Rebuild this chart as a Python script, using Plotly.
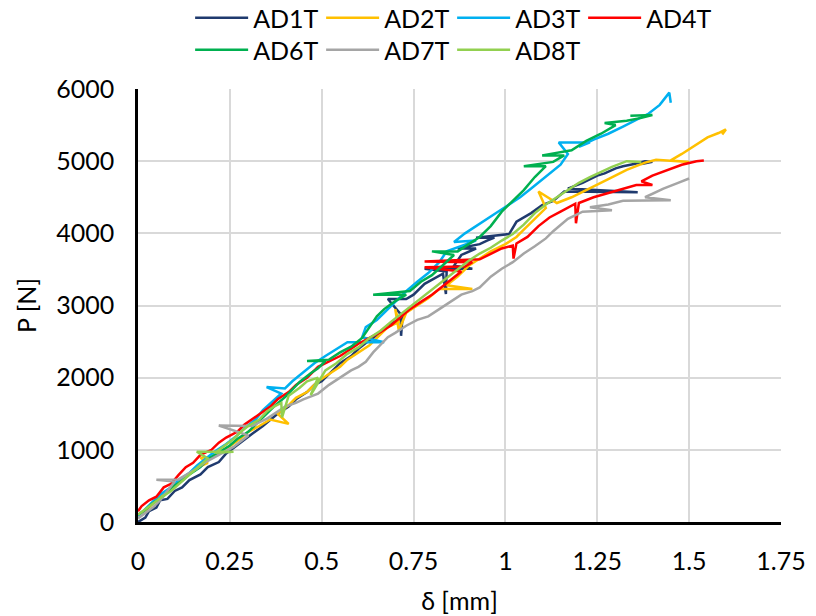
import plotly.graph_objects as go

# ---- data ----
series_names = ["AD1T", "AD2T", "AD3T", "AD4T", "AD6T", "AD7T", "AD8T"]
series_colors = ["#1F3A6E", "#FFC000", "#00B0F0", "#FF0000", "#00B050", "#A5A5A5", "#92D050"]
series_legend = ["legend", "legend", "legend", "legend", "legend2", "legend2", "legend2"]

ad1t_x = [0.0, 0.02, 0.03, 0.05, 0.06, 0.08, 0.10, 0.12, 0.14, 0.17, 0.19, 0.22, 0.24, 0.26, 0.29, 0.31,
          0.34, 0.36, 0.38, 0.41, 0.43, 0.46, 0.48, 0.50, 0.53, 0.55, 0.58, 0.60, 0.62, 0.64, 0.66, 0.68,
          0.70, 0.715, 0.716, 0.72, 0.68, 0.73, 0.75, 0.78, 0.83, 0.838, 0.84, 0.78, 0.91, 0.86, 0.88,
          0.92, 0.87, 0.93, 0.95, 0.97, 0.92, 1.01, 1.03, 1.07, 1.10, 1.13, 1.16, 1.36, 1.17, 1.21, 1.25,
          1.27, 1.30, 1.32, 1.35, 1.38, 1.40, 1.37]
ad1t_y = [0, 60, 150, 200, 300, 320, 430, 480, 580, 660, 760, 830, 950, 1030, 1150, 1220,
          1330, 1420, 1500, 1600, 1700, 1800, 1900, 1950, 2100, 2200, 2300, 2400, 2480, 2550, 2640, 2720,
          2780, 2810, 2580, 2850, 3090, 3090, 3150, 3300, 3440, 3160, 3470, 3510, 3510, 3550, 3700,
          3790, 3790, 3850, 3900, 3940, 3940, 3990, 4160, 4280, 4390, 4450, 4580, 4570, 4620, 4700, 4800,
          4830, 4900, 4930, 4960, 5000, 4990, 4960]

ad2t_x = [0.0, 0.02, 0.04, 0.06, 0.09, 0.11, 0.13, 0.16, 0.19, 0.17, 0.20, 0.22, 0.25, 0.28, 0.30, 0.33,
          0.36, 0.41, 0.38, 0.41, 0.43, 0.46, 0.49, 0.52, 0.55, 0.57, 0.60, 0.63, 0.66, 0.68, 0.71,
          0.70, 0.71, 0.73, 0.76, 0.79, 0.82, 0.91, 0.84, 0.87, 0.90, 0.93, 0.96, 1.00, 1.03, 1.05,
          1.08, 1.11, 1.09, 1.14, 1.18, 1.23, 1.28, 1.33, 1.38, 1.41, 1.50, 1.45, 1.48, 1.52, 1.55,
          1.58, 1.60, 1.59]
ad2t_y = [100, 150, 250, 350, 450, 560, 640, 750, 820, 890, 900, 960, 1050, 1160, 1250, 1330,
          1420, 1360, 1500, 1620, 1720, 1800, 1950, 2050, 2150, 2250, 2350, 2450, 2600, 2700, 2770,
          2950, 2650, 2900, 3000, 3100, 3230, 3230, 3280, 3400, 3550, 3650, 3750, 3850, 3950, 4050,
          4200, 4350, 4580, 4420, 4500, 4620, 4750, 4880, 4980, 5020, 4990, 5010, 5100, 5230, 5330,
          5390, 5440, 5370]

ad3t_x = [0.0, 0.02, 0.04, 0.06, 0.09, 0.11, 0.14, 0.16, 0.19, 0.21, 0.24, 0.27, 0.29, 0.32, 0.34,
          0.37, 0.39, 0.35, 0.40, 0.42, 0.45, 0.48, 0.51, 0.54, 0.57, 0.60, 0.67, 0.61, 0.62, 0.65,
          0.67, 0.70, 0.73, 0.76, 0.79, 0.82, 0.84, 0.92, 0.86, 0.89, 0.92, 0.95, 0.98, 1.01, 1.04,
          1.07, 1.10, 1.12, 1.15, 1.17, 1.145, 1.23, 1.20, 1.24, 1.28, 1.32, 1.36, 1.39, 1.42, 1.446, 1.45]
ad3t_y = [80, 180, 280, 380, 480, 580, 680, 780, 900, 980, 1080, 1200, 1300, 1420, 1550,
          1680, 1780, 1870, 1850, 1950, 2080, 2200, 2300, 2400, 2490, 2490, 2490, 2560, 2700, 2800,
          2900, 3050, 3200, 3330, 3450, 3600, 3750, 3900, 3880, 4000, 4100, 4200, 4300, 4400, 4500,
          4620, 4740, 4830, 4950, 5100, 5260, 5260, 5200, 5300, 5380, 5480, 5580, 5660, 5780, 5950, 5810]

ad4t_x = [0.0, 0.01, 0.03, 0.05, 0.07, 0.09, 0.11, 0.13, 0.15, 0.17, 0.20, 0.22, 0.24, 0.27, 0.29,
          0.31, 0.34, 0.36, 0.38, 0.41, 0.43, 0.46, 0.49, 0.52, 0.55, 0.58, 0.60, 0.63, 0.66, 0.69,
          0.72, 0.74, 0.77, 0.80, 0.82, 0.85, 0.88, 0.78, 0.89, 0.91, 0.78, 0.93, 0.96, 0.99, 1.02,
          1.022, 1.03, 1.06, 1.09, 1.12, 1.15, 1.19, 1.192, 1.20, 1.24, 1.28, 1.32, 1.356, 1.40, 1.37,
          1.40, 1.44, 1.48, 1.52, 1.54]
ad4t_y = [150, 220, 300, 350, 480, 530, 650, 760, 820, 930, 1000, 1100, 1170, 1250, 1350,
          1420, 1520, 1600, 1700, 1800, 1900, 2000, 2150, 2220, 2300, 2400, 2470, 2550, 2630, 2730,
          2860, 2950, 3050, 3150, 3230, 3350, 3470, 3530, 3540, 3600, 3610, 3640, 3720, 3790, 3830,
          3650, 3860, 3950, 4100, 4220, 4300, 4410, 4140, 4420, 4500, 4560, 4620, 4670, 4670, 4720,
          4800, 4880, 4950, 5000, 5010]

ad6t_x = [0.0, 0.02, 0.04, 0.07, 0.09, 0.12, 0.14, 0.17, 0.19, 0.22, 0.25, 0.27, 0.30, 0.33, 0.35,
          0.37, 0.40, 0.42, 0.44, 0.47, 0.49, 0.51, 0.46, 0.52, 0.55, 0.58, 0.61, 0.63, 0.65, 0.67,
          0.70, 0.73, 0.64, 0.74, 0.77, 0.80, 0.83, 0.86, 0.80, 0.87, 0.90, 0.93, 0.96, 0.99, 1.02,
          1.05, 1.08, 1.11, 1.05, 1.13, 1.16, 1.10, 1.18, 1.22, 1.26, 1.30, 1.27, 1.33, 1.37, 1.40, 1.34]
ad6t_y = [100, 170, 260, 360, 470, 570, 660, 760, 870, 960, 1060, 1150, 1250, 1400, 1500,
          1600, 1730, 1830, 1940, 2060, 2130, 2230, 2230, 2250, 2350, 2430, 2550, 2700, 2850, 2950,
          3060, 3150, 3150, 3200, 3330, 3420, 3560, 3700, 3750, 3750, 3850, 3950, 4100, 4300, 4450,
          4600, 4780, 4930, 4930, 4990, 5080, 5080, 5150, 5280, 5380, 5500, 5530, 5560, 5600, 5640, 5630]

ad7t_x = [0.0, 0.02, 0.04, 0.06, 0.10, 0.05, 0.11, 0.13, 0.16, 0.18, 0.21, 0.23, 0.26, 0.28, 0.30,
          0.22, 0.31, 0.33, 0.35, 0.38, 0.40, 0.43, 0.45, 0.49, 0.52, 0.55, 0.58, 0.60, 0.62, 0.64,
          0.66, 0.68, 0.70, 0.73, 0.76, 0.79, 0.82, 0.85, 0.88, 0.91, 0.93, 0.96, 0.99, 1.02, 1.05,
          1.08, 1.11, 1.13, 1.17, 1.21, 1.29, 1.23, 1.28, 1.32, 1.45, 1.38, 1.43, 1.47, 1.50]
ad7t_y = [50, 120, 200, 300, 560, 585, 590, 650, 740, 820, 900, 960, 1040, 1120, 1200,
          1337, 1330, 1380, 1430, 1530, 1600, 1650, 1700, 1780, 1900, 2000, 2100, 2150, 2220, 2350,
          2450, 2560, 2620, 2720, 2800, 2850, 2950, 3050, 3150, 3200, 3250, 3400, 3510, 3600, 3720,
          3820, 3930, 4030, 4200, 4300, 4320, 4360, 4400, 4450, 4460, 4500, 4620, 4700, 4760]

ad8t_x = [0.0, 0.02, 0.04, 0.06, 0.09, 0.11, 0.13, 0.15, 0.17, 0.19, 0.16, 0.26, 0.21, 0.23, 0.26,
          0.28, 0.30, 0.33, 0.35, 0.37, 0.39, 0.392, 0.41, 0.44, 0.46, 0.49, 0.47, 0.51, 0.54, 0.57,
          0.60, 0.63, 0.66, 0.69, 0.72, 0.75, 0.78, 0.81, 0.84, 0.87, 0.90, 0.93, 0.96, 0.99, 1.02,
          1.05, 1.08, 1.11, 1.14, 1.17, 1.20, 1.23, 1.26, 1.29, 1.33, 1.37]
ad8t_y = [100, 180, 260, 330, 430, 520, 610, 700, 800, 880, 975, 975, 960, 1040, 1150,
          1250, 1330, 1420, 1530, 1600, 1650, 1450, 1750, 1860, 1950, 2000, 1760, 2100, 2200, 2330,
          2420, 2550, 2650, 2780, 2900, 3020, 3130, 3250, 3380, 3500, 3620, 3720, 3800, 3900, 3990,
          4120, 4280, 4400, 4500, 4600, 4700, 4780, 4850, 4920, 5000, 4990]

series_x = [ad1t_x, ad2t_x, ad3t_x, ad4t_x, ad6t_x, ad7t_x, ad8t_x]
series_y = [ad1t_y, ad2t_y, ad3t_y, ad4t_y, ad6t_y, ad7t_y, ad8t_y]

x_ticks = [0, 0.25, 0.5, 0.75, 1, 1.25, 1.5, 1.75]
x_tick_labels = ["0", "0.25", "0.5", "0.75", "1", "1.25", "1.5", "1.75"]
y_ticks = [0, 1000, 2000, 3000, 4000, 5000, 6000]

FONT = "Lato, 'Open Sans', sans-serif"
FS = 25

fig = go.Figure()
for name, color, lg, xs, ys in zip(series_names, series_colors, series_legend, series_x, series_y):
    fig.add_trace(go.Scatter(x=xs, y=ys, mode="lines", name=name, legend=lg,
                             line=dict(color=color, width=2.5)))

leg_common = dict(orientation="h", xref="container", yref="container",
                  x=0.233, xanchor="left", yanchor="middle",
                  entrywidth=63, itemwidth=53, font=dict(size=FS),
                  bgcolor="rgba(0,0,0,0)", borderwidth=0)

fig.update_layout(
    width=816, height=616,
    margin=dict(l=138, r=35, t=89, b=94),
    paper_bgcolor="white", plot_bgcolor="white",
    font=dict(family=FONT, size=FS, color="#000000"),
    showlegend=True,
    legend=dict(**leg_common, y=1 - 18 / 616),
    legend2=dict(**leg_common, y=1 - 50 / 616),
)
fig.update_xaxes(range=[0, 1.75], tickvals=x_ticks, ticktext=x_tick_labels,
                 showgrid=True, gridcolor="#D9D9D9", gridwidth=2,
                 showline=True, linecolor="black", linewidth=2.5,
                 zeroline=False, ticks="", ticklabelstandoff=15, automargin=False,
                 title=dict(text="δ [mm]", standoff=19, font=dict(size=FS)))
fig.update_yaxes(range=[0, 6000], tickvals=y_ticks,
                 showgrid=True, gridcolor="#D9D9D9", gridwidth=2,
                 showline=True, linecolor="black", linewidth=2.5,
                 zeroline=False, ticks="", ticklabelstandoff=16, automargin=False,
                 title=dict(text="P [N]", standoff=13, font=dict(size=FS)))

fig.write_html("out.html", config={"displayModeBar": False},
               post_script="document.body.style.margin='0';")
